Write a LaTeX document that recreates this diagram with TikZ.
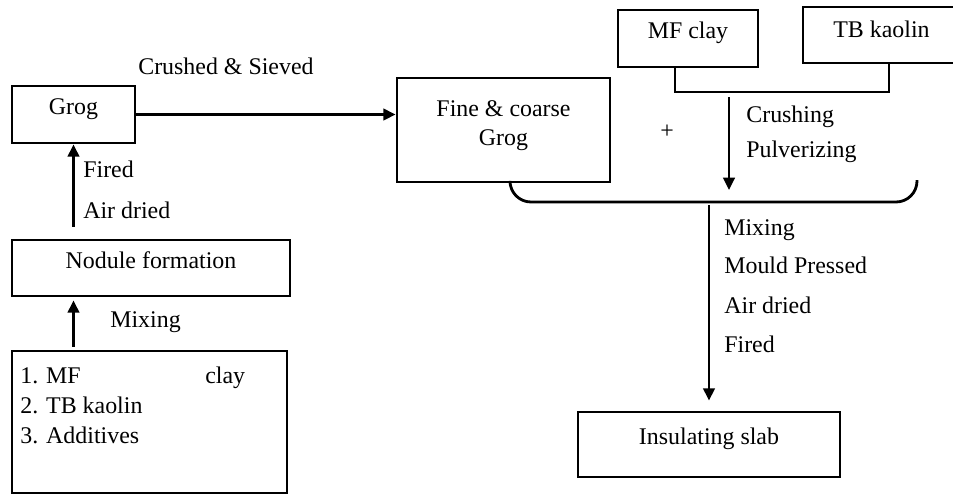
\documentclass[tikz,border=0pt]{standalone}
\usepackage{fontspec}
\setmainfont{Liberation Serif}
\usetikzlibrary{
    positioning,  % Relative positioning
    arrows.meta,  % Modern arrow tips
    calc          % Coordinate calculations
}

\begin{document}
\begin{tikzpicture}[x=0.02cm, y=-0.02cm,
    every node/.style={font=\fontsize{13.6}{16}\selectfont},
    box/.style={draw, line width=1.6pt, inner sep=0pt, text height=0.32cm, text depth=0.32cm},
    steptext/.style={anchor=base west, inner sep=0pt},
    flow/.style={line width=1.6pt, -{Triangle[length=7pt,width=6.5pt]}},
    link/.style={line width=1.6pt}]
    \useasboundingbox (0,0) rectangle (953,495);

    % Grog preparation (left column)
    \node[box, minimum width=2.46cm, minimum height=1.14cm] (grog) at (73.5,114.5) {Grog};
    \node[box, minimum width=5.56cm, minimum height=1.12cm] (nodule) at (151,268) {Nodule formation};
    \node[box, minimum width=5.5cm, minimum height=2.84cm] (batch) at (149.5,422) {};
    \node[anchor=north west, inner sep=0pt, align=left, font=\fontsize{13.6}{17}\selectfont] (batchlist) at (20,367)
        {\makebox[3.7cm][l]{1. MF}clay\\2. TB kaolin\\3. Additives};

    \draw[flow] ([yshift=0.06cm]batch.north -| grog.south) -- ([yshift=-0.06cm]nodule.south -| grog.south);
    \node[steptext] (mixa) at (110,327) {Mixing};
    \draw[flow] ([yshift=0.24cm]nodule.north -| grog.south) -- (grog.south);
    \node[steptext] (fireda) at (83,177) {Fired};
    \node[steptext] (drieda) at (83,218) {Air dried};

    % Fine & coarse grog
    \node[box, minimum width=4.26cm, minimum height=2.08cm, align=center, text height=0.68cm, text depth=0.08cm] (fine) at (503.5,130) {Fine \& coarse\\Grog};
    \draw[flow] (grog.east) -- (fine.west |- grog.east);
    \node[steptext] (sieve) at (138,74) {Crushed \& Sieved};

    % Raw materials (top right)
    \node[box, minimum width=2.8cm, minimum height=1.14cm] (mfclay) at (688,38.5) {MF clay};
    \node[box, minimum width=3.04cm, minimum height=1.12cm, text depth=0.24cm] (tbkaolin) at (879,35) {\hspace{0.1cm}TB kaolin};
    \coordinate (barl) at (675,92);
    \coordinate (barr) at (889,92);
    \draw[link] (barl |- mfclay.south) -- (barl) -- (barr) -- (barr |- tbkaolin.south);
    \coordinate (crusha) at (729,97);
    \coordinate (crushb) at (729,190);
    \draw[flow] (crusha) -- (crushb);
    \node[steptext] (crushing) at (746,122) {Crushing};
    \node[steptext] (pulver) at (746,157) {Pulverizing};
    \node (plus) at (667,132) {+};

    % Joining bracket and final product
    \coordinate (bracel) at (510,202);
    \coordinate (bracer) at (917,202);
    \draw[link, rounded corners=0.42cm] (bracel |- fine.south) -- (bracel) -- (bracer) -- ([yshift=0.44cm]bracer);
    \node[box, minimum width=5.24cm, minimum height=1.3cm] (slab) at (709,444.5) {Insulating slab};
    \draw[flow] ([yshift=-0.06cm]bracel -| slab.north) -- ([yshift=0.2cm]slab.north);
    \node[steptext] (mixb) at (724,235) {Mixing};
    \node[steptext] (mould) at (724,273) {Mould Pressed};
    \node[steptext] (driedb) at (724,313) {Air dried};
    \node[steptext] (firedb) at (724,352) {Fired};
\end{tikzpicture}
\end{document}
